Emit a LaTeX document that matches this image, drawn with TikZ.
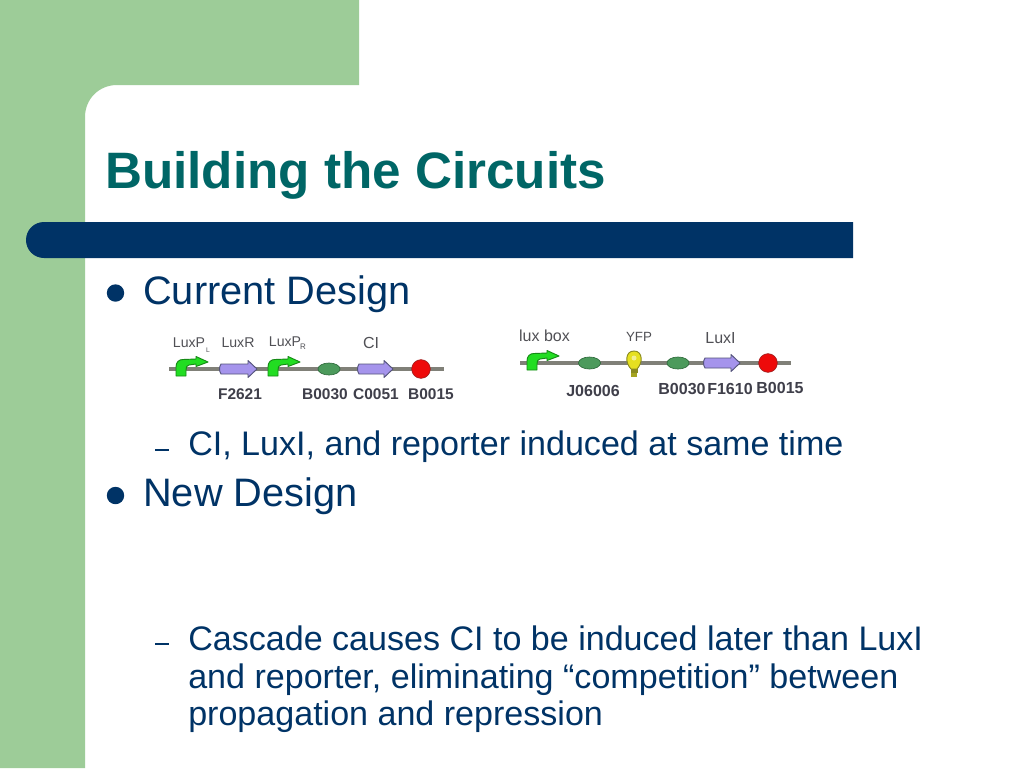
\documentclass[tikz,border=0pt]{standalone}
\usepackage{fontspec}
\setmainfont{Liberation Sans}
\usetikzlibrary{shapes.geometric}
\definecolor{sidegreen}{HTML}{9DCC98}
\definecolor{barblue}{HTML}{003366}
\definecolor{titleteal}{HTML}{006666}
\definecolor{partgrey}{HTML}{3F3F4A}
\definecolor{labgrey}{HTML}{505055}
\definecolor{backbone}{HTML}{808078}
\definecolor{cdspurple}{HTML}{A594EC}
\definecolor{cdsedge}{HTML}{54547A}
\definecolor{rbsgreen}{HTML}{4C9A5C}
\definecolor{rbsedge}{HTML}{2F6B3C}
\definecolor{stopred}{HTML}{EE0A0A}
\definecolor{stopedge}{HTML}{A02020}
\definecolor{promgreen}{HTML}{22DD22}
\definecolor{promedge}{HTML}{158A15}
\definecolor{bulbyellow}{HTML}{E6E020}
\definecolor{bulbedge}{HTML}{8A8A20}
\tikzset{
  titletext/.style={anchor=base west,inner sep=0pt,font=\fontsize{38.4}{38.4}\selectfont\bfseries,text=titleteal},
  bodytext/.style={anchor=base west,inner sep=0pt,font=\fontsize{29.8}{29.8}\selectfont,text=barblue},
  subtext/.style={anchor=base west,inner sep=0pt,align=left,font=\fontsize{25.55}{27.8}\selectfont,text=barblue},
  partlabel/.style={anchor=base,inner sep=0pt,font=\fontsize{11.6}{11.6}\selectfont\bfseries,text=partgrey},
  toplabel/.style={anchor=base,inner sep=0pt,font=\fontsize{10.6}{10.6}\selectfont,text=labgrey},
  bb/.style={draw=backbone,line width=2.4pt},
  cds/.style={fill=cdspurple,draw=cdsedge,line width=.7pt,line join=round},
  rbs/.style={ellipse,fill=rbsgreen,draw=rbsedge,line width=.5pt,minimum width=16.5pt,minimum height=9pt,inner sep=0pt},
  stopper/.style={circle,fill=stopred,draw=stopedge,line width=.5pt,minimum size=14pt,inner sep=0pt},
}
% promoter: (#1,#2) = foot centre of the bent arrow, at backbone level
\newcommand{\promoter}[2]{%
  \fill[promgreen,draw=promedge,line width=.7pt,line join=round,shift={(#1,#2)}]
    (-5,7) -- (-5,-2) .. controls (-5,-7) and (-2,-9.5) .. (2,-9.5) -- (15,-10) -- (15,-12.5)
    -- (27,-7) -- (15,-2.5) -- (15,-5) -- (8,-4) .. controls (5.5,-3.5) and (5,-2) .. (5,1) -- (5,7) -- cycle;}
% coding sequence arrow, from x=#1 to x=#2 at y=#3
\newcommand{\cdsarrow}[3]{%
  \path[cds] (#1,#3-5) -- (#2-9,#3-5) -- (#2-9,#3-8.5) -- (#2,#3) -- (#2-9,#3+8.5) -- (#2-9,#3+5) -- (#1,#3+5)
    .. controls (#1-2,#3+2) and (#1-2,#3-2) .. cycle;}
\begin{document}
\begin{tikzpicture}[x=0.75pt,y=-0.75pt]
\useasboundingbox (0,0) rectangle (1024,768);
\fill[white] (0,0) rectangle (1024,768);
% background
\fill[sidegreen] (0,0) -- (359,0) -- (359,85) -- (117,85)
  .. controls (99,85) and (85,99) .. (85,117) -- (85,768) -- (0,768) -- cycle;
% title bar
\fill[barblue] (853,222) -- (853,258) -- (44,258)
  .. controls (34,258) and (26,250) .. (26,240) .. controls (26,230) and (34,222) .. (44,222) -- cycle;
\node[titletext] (title) at (105,188) {Building the Circuits};
% bullets
\fill[barblue] (115.5,293) circle (8.7);
\fill[barblue] (115.5,495.5) circle (8.7);
\node[bodytext] (current) at (143,304.5) {Current Design};
\node[bodytext] (new) at (143,506) {New Design};
\fill[barblue] (155,449) rectangle (169,451);
\fill[barblue] (155,643) rectangle (169,645);
\node[subtext] (sub1) at (188,455) {CI, LuxI, and reporter induced at same time};
\node[subtext] (sub2a) at (188,650) {Cascade causes CI to be induced later than LuxI};
\node[subtext] (sub2b) at (188,688) {and reporter, eliminating “competition” between};
\node[subtext] (sub2c) at (188,725) {propagation and repression};
% left construct
\coordinate (la) at (169,369);
\coordinate (lb) at (444,369);
\draw[bb] (la) -- (lb);
\promoter{181}{369}
\cdsarrow{221}{257}{369}
\promoter{273}{369}
\node[rbs] (l1) at (329,369) {};
\cdsarrow{359}{393}{369}
\node[stopper] (l2) at (421,369) {};
\node[toplabel] (t1) at (189,347) {LuxP};
\node[toplabel,font=\fontsize{5}{5}\selectfont] (t1s) at (208,352) {L};
\node[toplabel] (t2) at (238,347) {LuxR};
\node[toplabel] (t3) at (285,346) {LuxP};
\node[toplabel,font=\fontsize{6}{6}\selectfont] (t3s) at (303,349) {R};
\node[toplabel,font=\fontsize{12}{12}\selectfont] (t4) at (371,348) {CI};
\node[partlabel] (p1) at (240,399) {F2621};
\node[partlabel] (p2) at (325,399) {B0030};
\node[partlabel] (p3) at (376,399) {C0051};
\node[partlabel] (p4) at (431,399) {B0015};
% right construct
\coordinate (ra) at (520,363);
\coordinate (rb) at (791,363);
\draw[bb] (ra) -- (rb);
\promoter{532}{363}
\node[rbs] (r1) at (589.5,363) {};
\fill[bulbyellow,draw=bulbedge,line width=.7pt] (631,369) .. controls (625,363) and (625,351) .. (634,351)
  .. controls (643,351) and (643,363) .. (637,369) -- cycle;
\fill[bulbedge] (630.5,369) rectangle (637.5,373);
\fill[bulbedge!70!bulbyellow] (631,373) rectangle (637,377);
\fill[white!50!bulbyellow] (634,358) circle (2.5);
\node[rbs] (r2) at (678,363) {};
\cdsarrow{705}{740}{363}
\node[stopper] (r3) at (768,363) {};
\node[toplabel,font=\fontsize{12}{12}\selectfont] (t5) at (544.5,341) {lux box};
\node[toplabel,font=\fontsize{10}{10}\selectfont] (t6) at (639,341) {YFP};
\node[toplabel,font=\fontsize{12}{12}\selectfont] (t7) at (720.5,343) {LuxI};
\node[partlabel,font=\fontsize{12}{12}\selectfont\bfseries] (p5) at (593,396) {J06006};
\node[partlabel,font=\fontsize{12}{12}\selectfont\bfseries] (p6) at (682,394) {B0030};
\node[partlabel,font=\fontsize{12}{12}\selectfont\bfseries] (p7) at (730,394) {F1610};
\node[partlabel,font=\fontsize{12}{12}\selectfont\bfseries] (p8) at (780,393) {B0015};
\end{tikzpicture}
\end{document}
